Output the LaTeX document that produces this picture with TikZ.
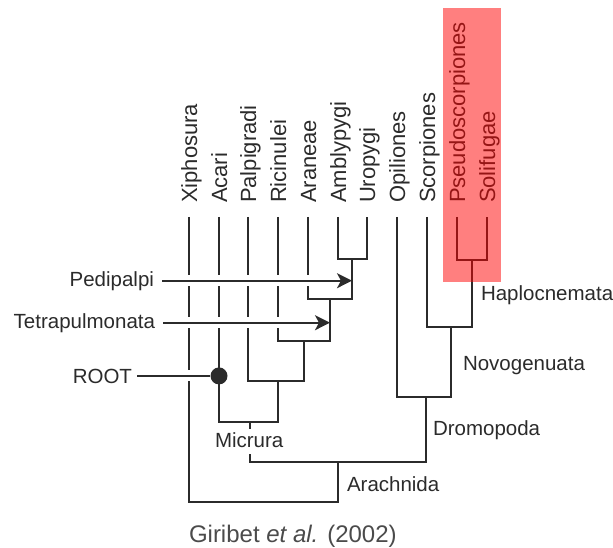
\documentclass[tikz,border=0pt]{standalone}
\usepackage{fontspec}
\setmainfont{Liberation Sans}
\usetikzlibrary{arrows.meta}
\definecolor{ink}{HTML}{2B2B2B}

\begin{document}
\begin{tikzpicture}[x=1pt,y=-1pt,line width=2pt,color=ink,
	taxon/.style={rotate=90,anchor=base west,inner sep=0pt,font=\fontsize{22}{26}\selectfont},
	clade/.style={anchor=base west,inner sep=0pt,font=\fontsize{20.5}{24}\selectfont},
	halo/.style={preaction={draw=white,line width=11pt,-,shorten >=12pt}},
	pointer/.style={halo,-{Stealth[length=15pt,width=15pt,inset=4pt]}}]
	\useasboundingbox (0,0) rectangle (613,548);
	\foreach \name/\x in {Xiphosura/189,Acari/219,Palpigradi/248,Ricinulei/278,Araneae/308,Amblypygi/338,Uropygi/367,Opiliones/397,Scorpiones/427,Pseudoscorpiones/457,Solifugae/487}{
		\node[taxon] (\name) at (\x+8,204) {\name};
		\coordinate (\name-top) at (\x,217);
	}
	\coordinate (pedi) at (352,259);
	\coordinate (tetra) at (330,299);
	\coordinate (ricin) at (304,341);
	\coordinate (palpi) at (278,381);
	\coordinate (micr) at (250,422);
	\coordinate (haplo) at (472,260);
	\coordinate (novo) at (451,327);
	\coordinate (dromo) at (426,397);
	\coordinate (arach) at (338,462);
	\coordinate (arachbase) at (338,502);
	\draw (Amblypygi-top) |- (pedi) -| (Uropygi-top);
	\draw (Araneae-top) |- (tetra) -| (pedi);
	\draw (Ricinulei-top) |- (ricin) -| (tetra);
	\draw (Palpigradi-top) |- (palpi) -| (ricin);
	\draw (Acari-top) |- (micr) -| (palpi);
	\draw (Pseudoscorpiones-top) |- (haplo) -| (Solifugae-top);
	\draw (Scorpiones-top) |- (novo) -| (haplo);
	\draw (Opiliones-top) |- (dromo) -| (novo);
	\draw (micr) |- (arach) -| (dromo);
	\draw (Xiphosura-top) |- (arachbase) -- (arach);
	\node[clade,fill=white,inner ysep=3pt,text depth=4pt] (Micrura) at (214,447) {Micrura};
	\node[clade] (Haplocnemata) at (480,300) {Haplocnemata};
	\node[clade] (Novogenuata) at (462,370) {Novogenuata};
	\node[clade] (Dromopoda) at (432,435) {Dromopoda};
	\node[clade] (Arachnida) at (346,491) {Arachnida};
	\node[clade,anchor=base east] (Pedipalpi) at (155,286) {Pedipalpi};
	\node[clade,anchor=base east] (Tetrapulmonata) at (156,328) {Tetrapulmonata};
	\node[clade,anchor=base east] (ROOT) at (133,383) {ROOT};
	\node[circle,fill,inner sep=0pt,minimum size=17pt] (rootdot) at (Acari-top |- ROOT.east) {};
	\draw[pointer] ([xshift=7pt]Pedipalpi.east) -- (Pedipalpi.east -| pedi);
	\draw[pointer] ([xshift=7pt]Tetrapulmonata.east) -- (Tetrapulmonata.east -| tetra);
	\draw[halo] ([xshift=4pt]ROOT.east) -- (rootdot);
	\fill[red,opacity=0.5] (443,8) rectangle (501,282);
	\node[anchor=base west,inner sep=0pt,font=\fontsize{24}{28}\selectfont,text=ink!85] (source) at (188,542) {Giribet \textit{et al.} (2002)};
\end{tikzpicture}
\end{document}
